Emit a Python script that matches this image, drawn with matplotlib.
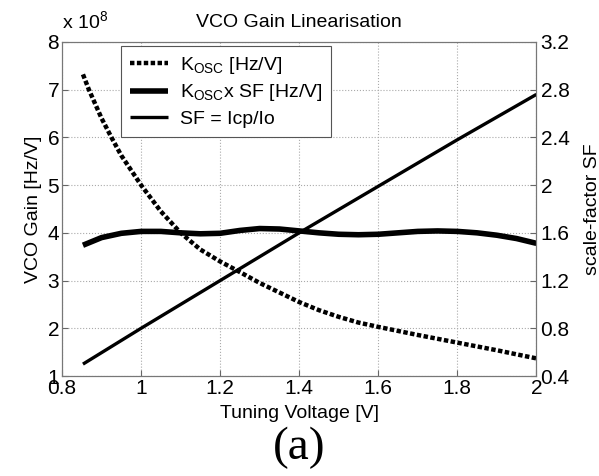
import numpy as np
import matplotlib
matplotlib.use('Agg')
import matplotlib.pyplot as plt

plt.rcParams['font.family'] = ['Liberation Sans', 'DejaVu Sans']
plt.rcParams['mathtext.fontset'] = 'custom'
plt.rcParams['mathtext.rm'] = 'Liberation Sans'
plt.rcParams['mathtext.it'] = 'Liberation Sans'

# K_osc [Hz/V], values in units of 1e8
kosc_v = [0.853, 0.868, 0.9, 0.925, 0.95, 1.0, 1.05, 1.1, 1.15, 1.2, 1.243, 1.3, 1.4, 1.45,
          1.5, 1.55, 1.6, 1.7, 1.8, 1.9, 1.97, 2.0]
kosc = [7.32, 7.0, 6.4, 6.0, 5.62, 5.0, 4.45, 4.0, 3.65, 3.4, 3.21, 2.95, 2.55, 2.38,
        2.24, 2.12, 2.03, 1.86, 1.70, 1.54, 1.42, 1.37]

# K_osc x SF [Hz/V], units of 1e8
ksf_v = [0.853, 0.9, 0.95, 1.0, 1.05, 1.1, 1.15, 1.2, 1.25, 1.3, 1.35, 1.4, 1.45, 1.5,
         1.55, 1.6, 1.65, 1.7, 1.75, 1.8, 1.85, 1.9, 1.95, 2.0]
ksf = [3.74, 3.90, 3.99, 4.03, 4.03, 4.0, 3.98, 3.99, 4.05, 4.09, 4.08, 4.04, 4.0, 3.97,
       3.96, 3.97, 4.0, 4.03, 4.04, 4.03, 4.0, 3.95, 3.88, 3.78]

# SF = Icp/Io (right axis)
sf_v = [0.853, 1.0, 1.4, 1.8, 2.0]
sf = [0.5, 0.8, 1.6, 2.38, 2.76]

fig = plt.figure(figsize=(5.99, 4.76), dpi=100)
ax = fig.add_axes([0.1035, 0.21, 0.792, 0.702])
ax2 = ax.twinx()

l1, = ax.plot(kosc_v, kosc, color='black', lw=3.2, linestyle=(0, (1, 0.55)),
              dash_capstyle='butt', label='K$_{\\mathrm{OSC}}$ [Hz/V]')
l2, = ax.plot(ksf_v, ksf, color='black', lw=4.0, solid_capstyle='butt',
              solid_joinstyle='round', label='K$_{\\mathrm{OSC}}$x SF [Hz/V]')
l3, = ax2.plot(sf_v, sf, color='black', lw=2.4, solid_capstyle='butt', label='SF = Icp/Io')

ax.set_xlim(0.8, 2.0)
ax.set_ylim(1, 8)
ax2.set_ylim(0.4, 3.2)
ax.set_xticks(np.arange(0.8, 2.01, 0.2))
ax.set_xticklabels(['0.8', '1', '1.2', '1.4', '1.6', '1.8', '2'])
ax.set_yticks(range(1, 9))
ax2.set_yticks(np.arange(0.4, 3.21, 0.4))
ax2.set_yticklabels(['0.4', '0.8', '1.2', '1.6', '2', '2.4', '2.8', '3.2'])

ax.grid(True, color='#aaaaaa', linestyle=':', lw=0.8)
for a in (ax, ax2):
    a.tick_params(direction='in', labelsize=15, length=4, color='#666666', pad=2)
    for s in a.spines.values():
        s.set_color('#777777')
ax2.tick_params(right=True, pad=3)

ax.set_xlabel('Tuning Voltage [V]', fontsize=14, labelpad=5)
ax.set_ylabel('VCO Gain [Hz/V]', fontsize=14, labelpad=4)
ax2.set_ylabel('scale-factor SF', fontsize=14, labelpad=10)
ax.set_title('VCO Gain Linearisation', fontsize=14, pad=11)
ax.text(0.0, 1.03, 'x 10$^{8}$', transform=ax.transAxes, fontsize=14, ha='left', va='bottom')

leg = ax.legend(handles=[l1, l2, l3], loc='upper left', bbox_to_anchor=(0.124, 0.988),
                fontsize=14, frameon=True, fancybox=False, framealpha=1,
                edgecolor='#555555', borderpad=0.45, labelspacing=0.35,
                handlelength=2.0, handletextpad=0.6, borderaxespad=0)
leg.get_frame().set_linewidth(0.8)

fig.text(0.5, 0.06, '(a)', fontsize=34, family='Liberation Serif', ha='center', va='center')

fig.savefig('out.png', dpi=100)
